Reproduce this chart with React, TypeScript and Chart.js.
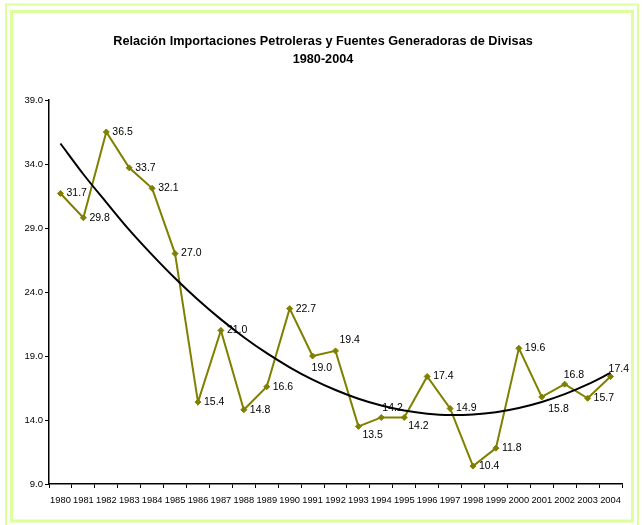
import React, { useEffect, useRef } from "react";
import { Chart, registerables } from "chart.js";

Chart.register(...registerables);

const years = [
  "1980", "1981", "1982", "1983", "1984", "1985", "1986", "1987", "1988", "1989",
  "1990", "1991", "1992", "1993", "1994", "1995", "1996", "1997", "1998", "1999",
  "2000", "2001", "2002", "2003", "2004",
];

const ratio = [
  31.7, 29.8, 36.5, 33.7, 32.1, 27.0, 15.4, 21.0, 14.8, 16.6,
  22.7, 19.0, 19.4, 13.5, 14.2, 14.2, 17.4, 14.9, 10.4, 11.8,
  19.6, 15.8, 16.8, 15.7, 17.4,
];

// polynomial trend line
const trend = [
  35.6, 33.2, 31.0, 28.85, 26.9, 25.07, 23.39, 21.86, 20.47, 19.22,
  18.12, 17.15, 16.34, 15.66, 15.13, 14.74, 14.49, 14.39, 14.43, 14.61,
  14.94, 15.41, 16.02, 16.78, 17.68,
];

const yMin = 9;
const yMax = 39;
const yStep = 5;

const titleLines = [
  "Relación Importaciones Petroleras y Fuentes Generadoras de Divisas",
  "1980-2004",
];

// label placement: [dx from point to label's left edge, dy from point to label's middle]
const R: [number, number] = [6, 0];
const labelOffsets: [number, number][] = [
  R, R, R, R, R, R, R, R, R, R,
  R, [-1, 12], [4, -11], [4, 9], [1, -9], [4, 9], R, R, R, R,
  R, [6.5, 12], [-1, -9], R, [-2, -7],
];

const FONT = "'Liberation Sans', Arial, Helvetica, sans-serif";
const OLIVE = "#808000";
const FRAME = "#dcff9c";

const framePlugin = {
  id: "frameAndTitle",
  beforeDraw(chart: any) {
    const ctx = chart.ctx;
    ctx.save();
    ctx.fillStyle = "#ffffff";
    ctx.fillRect(0, 0, chart.width, chart.height);
    ctx.strokeStyle = FRAME;
    ctx.lineWidth = 2;
    ctx.strokeRect(6, 4.5, 632, 524);
    ctx.lineWidth = 3;
    ctx.strokeRect(11.5, 11.5, 621, 509.5);
    ctx.fillStyle = "#000";
    ctx.font = `bold 12.7px ${FONT}`;
    ctx.textAlign = "center";
    ctx.textBaseline = "middle";
    ctx.fillText(titleLines[0], 323, 41);
    ctx.fillText(titleLines[1], 323, 59);
    ctx.restore();
  },
};

const labelPlugin = {
  id: "pointLabels",
  afterDatasetDraw(chart: any, args: any) {
    if (args.index !== 0) return;
    const ctx = chart.ctx;
    const meta = chart.getDatasetMeta(0);
    ctx.save();
    ctx.fillStyle = "#000";
    ctx.font = `10.5px ${FONT}`;
    ctx.textAlign = "left";
    ctx.textBaseline = "middle";
    meta.data.forEach((pt: any, i: number) => {
      const [dx, dy] = labelOffsets[i] || R;
      ctx.fillText(ratio[i].toFixed(1), pt.x + dx, pt.y + dy);
    });
    ctx.restore();
  },
};

export default function App() {
  const ref = useRef<HTMLCanvasElement | null>(null);

  useEffect(() => {
    if (!ref.current) return;
    const chart = new Chart(ref.current, {
      type: "line",
      data: {
        labels: years,
        datasets: [
          {
            label: "Relación",
            data: ratio,
            borderColor: OLIVE,
            backgroundColor: OLIVE,
            borderWidth: 2,
            pointStyle: "rectRot",
            pointRadius: 3,
            pointBackgroundColor: OLIVE,
            pointBorderColor: OLIVE,
            pointBorderWidth: 1,
            tension: 0,
            order: 1,
          },
          {
            label: "Tendencia",
            data: trend,
            borderColor: "#000",
            borderWidth: 2,
            pointRadius: 0,
            cubicInterpolationMode: "monotone",
            order: 0,
          },
        ],
      },
      options: {
        responsive: false,
        animation: false,
        devicePixelRatio: 1,
        layout: { padding: { top: 100, left: 0, right: 22, bottom: 0 } },
        plugins: {
          legend: { display: false },
          title: { display: false },
          tooltip: { enabled: false },
        },
        scales: {
          x: {
            type: "category",
            offset: true,
            grid: {
              display: true,
              offset: true,
              drawOnChartArea: false,
              drawTicks: true,
              tickLength: 4,
              tickColor: "#000",
              tickWidth: 1,
            },
            border: { display: true, color: "#000", width: 1.5 },
            ticks: {
              color: "#000",
              font: { family: FONT, size: 9.3 },
              maxRotation: 0,
              minRotation: 0,
              autoSkip: false,
              padding: 7,
            },
            afterFit: (s: any) => {
              s.height = 41;
            },
          },
          y: {
            min: yMin,
            max: yMax,
            grid: {
              display: true,
              drawOnChartArea: false,
              drawTicks: true,
              tickLength: 4,
              tickColor: "#000",
              tickWidth: 1,
            },
            border: { display: true, color: "#000", width: 1.5 },
            ticks: {
              stepSize: yStep,
              color: "#000",
              font: { family: FONT, size: 9.5 },
              padding: 2,
              callback: (v: any) => Number(v).toFixed(1),
            },
            afterFit: (s: any) => {
              s.width = 49;
            },
          },
        },
      },
      plugins: [framePlugin, labelPlugin],
    });
    return () => chart.destroy();
  }, []);

  return (
    <div style={{ position: "absolute", left: 0, top: 0, width: 644, height: 525 }}>
      <canvas ref={ref} width={644} height={525} style={{ display: "block" }} />
    </div>
  );
}
